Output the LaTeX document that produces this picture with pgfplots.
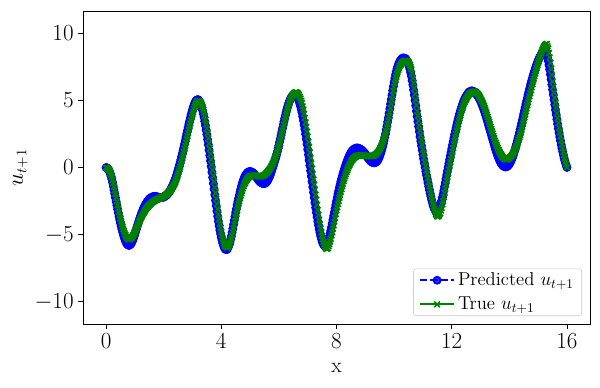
\documentclass[border=0pt]{standalone}
\usepackage{pgfplots}
\pgfplotsset{compat=1.18}
\usepackage{pgfplotstable}
\pgfplotstableread{
x T P
0.000 0.00 0.00
0.025 -0.02 -0.02
0.050 -0.05 -0.05
0.075 -0.10 -0.12
0.100 -0.15 -0.20
0.125 -0.26 -0.34
0.150 -0.38 -0.48
0.175 -0.54 -0.66
0.200 -0.70 -0.85
0.225 -0.94 -1.11
0.250 -1.18 -1.38
0.275 -1.44 -1.66
0.300 -1.70 -1.95
0.325 -1.97 -2.24
0.350 -2.25 -2.53
0.375 -2.52 -2.81
0.400 -2.80 -3.10
0.425 -3.06 -3.37
0.450 -3.32 -3.65
0.475 -3.56 -3.90
0.500 -3.80 -4.15
0.525 -4.01 -4.37
0.550 -4.22 -4.60
0.575 -4.41 -4.80
0.600 -4.60 -5.00
0.625 -4.75 -5.17
0.650 -4.90 -5.33
0.675 -5.03 -5.47
0.700 -5.15 -5.60
0.725 -5.23 -5.68
0.750 -5.30 -5.75
0.775 -5.33 -5.78
0.800 -5.35 -5.80
0.825 -5.33 -5.76
0.850 -5.30 -5.72
0.875 -5.25 -5.64
0.900 -5.20 -5.55
0.925 -5.11 -5.42
0.950 -5.02 -5.28
0.975 -4.91 -5.12
1.000 -4.80 -4.95
1.025 -4.68 -4.78
1.050 -4.55 -4.60
1.075 -4.43 -4.43
1.100 -4.30 -4.25
1.125 -4.18 -4.09
1.150 -4.05 -3.92
1.175 -3.93 -3.76
1.200 -3.80 -3.60
1.225 -3.70 -3.46
1.250 -3.60 -3.32
1.275 -3.50 -3.19
1.300 -3.40 -3.05
1.325 -3.31 -2.94
1.350 -3.22 -2.83
1.375 -3.14 -2.74
1.400 -3.05 -2.65
1.425 -2.99 -2.57
1.450 -2.92 -2.48
1.475 -2.86 -2.42
1.500 -2.80 -2.35
1.525 -2.75 -2.31
1.550 -2.70 -2.26
1.575 -2.65 -2.23
1.600 -2.60 -2.20
1.625 -2.56 -2.18
1.650 -2.52 -2.16
1.675 -2.49 -2.15
1.700 -2.45 -2.15
1.725 -2.43 -2.16
1.750 -2.40 -2.17
1.775 -2.38 -2.19
1.800 -2.35 -2.20
1.825 -2.33 -2.22
1.850 -2.30 -2.23
1.875 -2.28 -2.24
1.900 -2.25 -2.25
1.925 -2.23 -2.24
1.950 -2.20 -2.23
1.975 -2.18 -2.22
2.000 -2.15 -2.20
2.025 -2.12 -2.17
2.050 -2.08 -2.13
2.075 -2.04 -2.09
2.100 -2.00 -2.05
2.125 -1.96 -2.00
2.150 -1.91 -1.94
2.175 -1.86 -1.87
2.200 -1.80 -1.80
2.225 -1.73 -1.71
2.250 -1.66 -1.61
2.275 -1.58 -1.51
2.300 -1.50 -1.40
2.325 -1.41 -1.28
2.350 -1.31 -1.16
2.375 -1.21 -1.03
2.400 -1.10 -0.90
2.425 -0.96 -0.73
2.450 -0.82 -0.56
2.475 -0.66 -0.38
2.500 -0.50 -0.20
2.525 -0.32 0.00
2.550 -0.13 0.20
2.575 0.06 0.40
2.600 0.25 0.60
2.625 0.48 0.83
2.650 0.70 1.05
2.675 0.93 1.28
2.700 1.15 1.50
2.725 1.39 1.75
2.750 1.62 2.00
2.775 1.86 2.25
2.800 2.10 2.50
2.825 2.34 2.74
2.850 2.58 2.98
2.875 2.82 3.22
2.900 3.05 3.45
2.925 3.29 3.68
2.950 3.52 3.90
2.975 3.74 4.10
3.000 3.95 4.30
3.025 4.14 4.47
3.050 4.33 4.63
3.075 4.49 4.77
3.100 4.65 4.90
3.125 4.76 4.97
3.150 4.87 5.03
3.175 4.91 5.04
3.200 4.95 5.05
3.225 4.94 4.98
3.250 4.93 4.90
3.275 4.87 4.78
3.300 4.80 4.65
3.325 4.65 4.45
3.350 4.50 4.25
3.375 4.30 4.00
3.400 4.10 3.75
3.425 3.83 3.44
3.450 3.55 3.13
3.475 3.23 2.79
3.500 2.90 2.45
3.525 2.54 2.08
3.550 2.17 1.70
3.575 1.79 1.30
3.600 1.40 0.90
3.625 1.00 0.49
3.650 0.60 0.08
3.675 0.20 -0.34
3.700 -0.20 -0.75
3.725 -0.63 -1.18
3.750 -1.05 -1.60
3.775 -1.48 -2.03
3.800 -1.90 -2.45
3.825 -2.31 -2.85
3.850 -2.72 -3.25
3.875 -3.11 -3.63
3.900 -3.50 -4.00
3.925 -3.85 -4.33
3.950 -4.20 -4.65
3.975 -4.50 -4.93
4.000 -4.80 -5.20
4.025 -5.04 -5.42
4.050 -5.28 -5.63
4.075 -5.47 -5.79
4.100 -5.65 -5.95
4.125 -5.77 -6.03
4.150 -5.88 -6.10
4.175 -5.92 -6.11
4.200 -5.95 -6.10
4.225 -5.91 -6.00
4.250 -5.87 -5.90
4.275 -5.76 -5.75
4.300 -5.65 -5.60
4.325 -5.47 -5.36
4.350 -5.28 -5.12
4.375 -5.04 -4.84
4.400 -4.80 -4.55
4.425 -4.53 -4.25
4.450 -4.25 -3.95
4.475 -3.98 -3.65
4.500 -3.70 -3.35
4.525 -3.44 -3.08
4.550 -3.18 -2.80
4.575 -2.94 -2.55
4.600 -2.70 -2.30
4.625 -2.49 -2.07
4.650 -2.28 -1.83
4.675 -2.09 -1.62
4.700 -1.90 -1.40
4.725 -1.73 -1.23
4.750 -1.55 -1.05
4.775 -1.40 -0.90
4.800 -1.25 -0.75
4.825 -1.14 -0.65
4.850 -1.03 -0.55
4.875 -0.94 -0.48
4.900 -0.85 -0.40
4.925 -0.79 -0.36
4.950 -0.73 -0.32
4.975 -0.69 -0.31
5.000 -0.65 -0.30
5.025 -0.64 -0.31
5.050 -0.62 -0.33
5.075 -0.61 -0.36
5.100 -0.60 -0.40
5.125 -0.60 -0.45
5.150 -0.60 -0.51
5.175 -0.60 -0.58
5.200 -0.60 -0.65
5.225 -0.62 -0.73
5.250 -0.63 -0.80
5.275 -0.64 -0.88
5.300 -0.65 -0.95
5.325 -0.66 -1.01
5.350 -0.66 -1.07
5.375 -0.66 -1.11
5.400 -0.65 -1.15
5.425 -0.63 -1.17
5.450 -0.61 -1.19
5.475 -0.58 -1.20
5.500 -0.55 -1.20
5.525 -0.51 -1.17
5.550 -0.46 -1.13
5.575 -0.41 -1.07
5.600 -0.35 -1.00
5.625 -0.28 -0.90
5.650 -0.21 -0.80
5.675 -0.13 -0.68
5.700 -0.05 -0.55
5.725 0.05 -0.40
5.750 0.14 -0.24
5.775 0.25 -0.07
5.800 0.35 0.10
5.825 0.48 0.28
5.850 0.60 0.45
5.875 0.75 0.63
5.900 0.90 0.80
5.925 1.07 1.00
5.950 1.23 1.20
5.975 1.42 1.43
6.000 1.60 1.65
6.025 1.82 1.90
6.050 2.03 2.14
6.075 2.27 2.40
6.100 2.50 2.65
6.125 2.74 2.91
6.150 2.97 3.16
6.175 3.21 3.41
6.200 3.45 3.65
6.225 3.69 3.88
6.250 3.92 4.10
6.275 4.14 4.30
6.300 4.35 4.50
6.325 4.54 4.67
6.350 4.73 4.83
6.375 4.89 4.97
6.400 5.05 5.10
6.425 5.17 5.19
6.450 5.28 5.28
6.475 5.37 5.34
6.500 5.45 5.40
6.525 5.51 5.41
6.550 5.56 5.41
6.575 5.58 5.38
6.600 5.60 5.35
6.625 5.57 5.27
6.650 5.54 5.18
6.675 5.47 5.07
6.700 5.40 4.95
6.725 5.27 4.76
6.750 5.14 4.56
6.775 4.97 4.33
6.800 4.80 4.10
6.825 4.55 3.80
6.850 4.30 3.50
6.875 4.00 3.18
6.900 3.70 2.85
6.925 3.36 2.49
6.950 3.02 2.12
6.975 2.66 1.74
7.000 2.30 1.35
7.025 1.91 0.95
7.050 1.51 0.55
7.075 1.11 0.15
7.100 0.70 -0.25
7.125 0.30 -0.65
7.150 -0.10 -1.05
7.175 -0.50 -1.45
7.200 -0.90 -1.85
7.225 -1.28 -2.24
7.250 -1.66 -2.62
7.275 -2.03 -2.99
7.300 -2.40 -3.35
7.325 -2.78 -3.68
7.350 -3.16 -4.00
7.375 -3.53 -4.30
7.400 -3.90 -4.60
7.425 -4.22 -4.85
7.450 -4.53 -5.10
7.475 -4.82 -5.30
7.500 -5.10 -5.50
7.525 -5.33 -5.63
7.550 -5.55 -5.75
7.575 -5.73 -5.80
7.600 -5.90 -5.85
7.625 -5.98 -5.80
7.650 -6.05 -5.75
7.675 -6.03 -5.65
7.700 -6.00 -5.55
7.725 -5.85 -5.35
7.750 -5.70 -5.15
7.775 -5.50 -4.93
7.800 -5.30 -4.70
7.825 -5.06 -4.44
7.850 -4.82 -4.17
7.875 -4.56 -3.89
7.900 -4.30 -3.60
7.925 -4.03 -3.33
7.950 -3.75 -3.05
7.975 -3.48 -2.78
8.000 -3.20 -2.50
8.025 -2.96 -2.24
8.050 -2.72 -1.98
8.075 -2.49 -1.74
8.100 -2.25 -1.50
8.125 -2.04 -1.28
8.150 -1.82 -1.05
8.175 -1.61 -0.85
8.200 -1.40 -0.65
8.225 -1.21 -0.47
8.250 -1.01 -0.28
8.275 -0.83 -0.12
8.300 -0.65 0.05
8.325 -0.49 0.21
8.350 -0.33 0.37
8.375 -0.19 0.51
8.400 -0.05 0.65
8.425 0.07 0.78
8.450 0.19 0.90
8.475 0.30 1.00
8.500 0.40 1.10
8.525 0.49 1.18
8.550 0.57 1.25
8.575 0.64 1.30
8.600 0.70 1.35
8.625 0.75 1.39
8.650 0.79 1.42
8.675 0.82 1.44
8.700 0.85 1.45
8.725 0.87 1.45
8.750 0.88 1.44
8.775 0.89 1.42
8.800 0.90 1.40
8.825 0.90 1.37
8.850 0.90 1.34
8.875 0.90 1.30
8.900 0.90 1.25
8.925 0.89 1.19
8.950 0.88 1.13
8.975 0.87 1.07
9.000 0.85 1.00
9.025 0.85 0.93
9.050 0.85 0.85
9.075 0.85 0.78
9.100 0.85 0.70
9.125 0.85 0.63
9.150 0.85 0.57
9.175 0.85 0.51
9.200 0.85 0.45
9.225 0.86 0.41
9.250 0.87 0.38
9.275 0.88 0.36
9.300 0.90 0.35
9.325 0.93 0.36
9.350 0.96 0.37
9.375 1.00 0.41
9.400 1.05 0.45
9.425 1.11 0.53
9.450 1.18 0.61
9.475 1.26 0.73
9.500 1.35 0.85
9.525 1.46 1.01
9.550 1.58 1.17
9.575 1.71 1.36
9.600 1.85 1.55
9.625 2.00 1.77
9.650 2.15 2.00
9.675 2.32 2.25
9.700 2.50 2.50
9.725 2.73 2.79
9.750 2.97 3.08
9.775 3.23 3.39
9.800 3.50 3.70
9.825 3.80 4.03
9.850 4.10 4.37
9.875 4.42 4.71
9.900 4.75 5.05
9.925 5.08 5.39
9.950 5.40 5.73
9.975 5.70 6.04
10.000 6.00 6.35
10.025 6.26 6.63
10.050 6.52 6.90
10.075 6.74 7.13
10.100 6.95 7.35
10.125 7.12 7.51
10.150 7.28 7.67
10.175 7.42 7.79
10.200 7.55 7.90
10.225 7.64 7.98
10.250 7.72 8.05
10.275 7.79 8.10
10.300 7.85 8.15
10.325 7.89 8.15
10.350 7.92 8.15
10.375 7.94 8.13
10.400 7.95 8.10
10.425 7.94 8.02
10.450 7.93 7.93
10.475 7.89 7.82
10.500 7.85 7.70
10.525 7.74 7.50
10.550 7.63 7.30
10.575 7.47 7.05
10.600 7.30 6.80
10.625 6.98 6.48
10.650 6.65 6.15
10.675 6.28 5.78
10.700 5.90 5.40
10.725 5.48 5.00
10.750 5.05 4.60
10.775 4.63 4.20
10.800 4.20 3.80
10.825 3.84 3.43
10.850 3.47 3.05
10.875 3.11 2.68
10.900 2.75 2.30
10.925 2.40 1.96
10.950 2.05 1.62
10.975 1.70 1.29
11.000 1.35 0.95
11.025 1.04 0.64
11.050 0.72 0.32
11.075 0.41 0.01
11.100 0.10 -0.30
11.125 -0.20 -0.58
11.150 -0.50 -0.85
11.175 -0.80 -1.13
11.200 -1.10 -1.40
11.225 -1.38 -1.66
11.250 -1.66 -1.92
11.275 -1.93 -2.16
11.300 -2.20 -2.40
11.325 -2.44 -2.60
11.350 -2.68 -2.80
11.375 -2.89 -2.95
11.400 -3.10 -3.10
11.425 -3.28 -3.18
11.450 -3.45 -3.26
11.475 -3.55 -3.28
11.500 -3.65 -3.30
11.525 -3.63 -3.23
11.550 -3.60 -3.15
11.575 -3.50 -3.03
11.600 -3.40 -2.90
11.625 -3.20 -2.69
11.650 -3.00 -2.48
11.675 -2.75 -2.24
11.700 -2.50 -2.00
11.725 -2.20 -1.72
11.750 -1.90 -1.43
11.775 -1.58 -1.14
11.800 -1.25 -0.85
11.825 -0.98 -0.56
11.850 -0.70 -0.27
11.875 -0.43 0.02
11.900 -0.15 0.30
11.925 0.12 0.58
11.950 0.38 0.86
11.975 0.64 1.13
12.000 0.90 1.40
12.025 1.18 1.67
12.050 1.45 1.93
12.075 1.73 2.19
12.100 2.00 2.45
12.125 2.25 2.69
12.150 2.50 2.93
12.175 2.75 3.17
12.200 3.00 3.40
12.225 3.23 3.61
12.250 3.46 3.82
12.275 3.68 4.01
12.300 3.90 4.20
12.325 4.09 4.37
12.350 4.27 4.54
12.375 4.44 4.70
12.400 4.60 4.85
12.425 4.74 4.98
12.450 4.87 5.10
12.475 4.99 5.20
12.500 5.10 5.30
12.525 5.20 5.39
12.550 5.29 5.47
12.575 5.37 5.54
12.600 5.45 5.60
12.625 5.50 5.64
12.650 5.54 5.67
12.675 5.57 5.69
12.700 5.60 5.70
12.725 5.62 5.69
12.750 5.64 5.67
12.775 5.65 5.64
12.800 5.65 5.60
12.825 5.63 5.55
12.850 5.60 5.49
12.875 5.55 5.42
12.900 5.50 5.35
12.925 5.43 5.26
12.950 5.35 5.16
12.975 5.25 5.06
13.000 5.15 4.95
13.025 5.05 4.82
13.050 4.94 4.69
13.075 4.82 4.55
13.100 4.70 4.40
13.125 4.56 4.25
13.150 4.42 4.09
13.175 4.26 3.92
13.200 4.10 3.75
13.225 3.93 3.57
13.250 3.76 3.38
13.275 3.58 3.19
13.300 3.40 3.00
13.325 3.23 2.82
13.350 3.05 2.63
13.375 2.88 2.44
13.400 2.70 2.25
13.425 2.53 2.06
13.450 2.35 1.87
13.475 2.18 1.69
13.500 2.00 1.50
13.525 1.86 1.33
13.550 1.71 1.16
13.575 1.58 1.01
13.600 1.45 0.85
13.625 1.33 0.72
13.650 1.21 0.58
13.675 1.11 0.47
13.700 1.00 0.35
13.725 0.92 0.28
13.750 0.83 0.20
13.775 0.77 0.15
13.800 0.70 0.10
13.825 0.67 0.08
13.850 0.63 0.05
13.875 0.62 0.05
13.900 0.60 0.05
13.925 0.62 0.08
13.950 0.63 0.12
13.975 0.67 0.19
14.000 0.70 0.25
14.025 0.76 0.35
14.050 0.81 0.45
14.075 0.88 0.58
14.100 0.95 0.70
14.125 1.04 0.85
14.150 1.13 1.00
14.175 1.24 1.18
14.200 1.35 1.35
14.225 1.48 1.55
14.250 1.61 1.74
14.275 1.76 1.95
14.300 1.90 2.15
14.325 2.07 2.37
14.350 2.23 2.59
14.375 2.42 2.82
14.400 2.60 3.05
14.425 2.82 3.29
14.450 3.04 3.52
14.475 3.27 3.76
14.500 3.50 4.00
14.525 3.73 4.24
14.550 3.95 4.48
14.575 4.18 4.72
14.600 4.40 4.95
14.625 4.63 5.18
14.650 4.85 5.41
14.675 5.08 5.63
14.700 5.30 5.85
14.725 5.53 6.06
14.750 5.75 6.27
14.775 5.98 6.46
14.800 6.20 6.65
14.825 6.41 6.83
14.850 6.61 7.01
14.875 6.81 7.18
14.900 7.00 7.35
14.925 7.20 7.51
14.950 7.40 7.67
14.975 7.60 7.81
15.000 7.80 7.95
15.025 7.98 8.08
15.050 8.16 8.20
15.075 8.33 8.30
15.100 8.50 8.40
15.125 8.64 8.48
15.150 8.78 8.55
15.175 8.89 8.60
15.200 9.00 8.65
15.225 9.08 8.63
15.250 9.15 8.60
15.275 9.18 8.50
15.300 9.20 8.40
15.325 9.03 8.18
15.350 8.85 7.95
15.375 8.53 7.63
15.400 8.20 7.30
15.425 7.78 6.93
15.450 7.35 6.55
15.475 6.88 6.18
15.500 6.40 5.80
15.525 5.99 5.43
15.550 5.58 5.05
15.575 5.19 4.68
15.600 4.80 4.30
15.625 4.43 3.95
15.650 4.05 3.59
15.675 3.68 3.25
15.700 3.30 2.90
15.725 2.97 2.59
15.750 2.63 2.28
15.775 2.32 1.99
15.800 2.00 1.70
15.825 1.72 1.44
15.850 1.43 1.18
15.875 1.17 0.94
15.900 0.90 0.70
15.925 0.67 0.51
15.950 0.43 0.32
15.975 0.22 0.16
16.000 0.00 0.00
}\datatable
\begin{document}
\begin{tikzpicture}
\useasboundingbox (-62.25pt,-47.25pt) rectangle (387.75pt,243pt);
\begin{axis}[
  at={(0,0)}, anchor=south west,
  scale only axis, width=380.25pt, height=234.75pt,
  xmin=-0.8, xmax=16.8, ymin=-11.65, ymax=11.65,
  xtick={0,4,8,12,16}, ytick={-10,-5,0,5,10},
  tick align=outside, tick pos=left,
  major tick length=3.5pt,
  axis line style={line width=0.6pt},
  every tick/.style={black, line width=0.6pt},
  ticklabel style={font=\fontsize{16}{19}\selectfont},
  label style={font=\fontsize{16}{19}\selectfont},
  xlabel={x}, ylabel={$u_{t+1}$},
  xlabel style={at={(axis description cs:0.5,0)}, anchor=center, yshift=-33pt},
  ylabel style={at={(axis description cs:-0.1236,0.5)}, anchor=center},
  legend style={at={(1,0)}, anchor=south east, xshift=-6pt, yshift=6pt,
    font=\fontsize{14}{17}\selectfont, draw=black!20, rounded corners=2pt,
    fill=white, fill opacity=0.8, text opacity=1, row sep=3pt,
    inner xsep=4pt, inner ysep=1pt},
  legend cell align=left,
  legend image code/.code={\draw[mark repeat=2,mark phase=2] plot coordinates {(0pt,0pt) (13pt,0pt) (26pt,0pt)};},
]
\addplot[blue, line width=1.4pt, dash pattern=on 5.5pt off 2.4pt, mark=*, mark size=2.6pt, mark options={solid}] table[x=x,y=P] {\datatable};
\addlegendentry{Predicted $u_{t+1}$}
\addplot[green!50!black, line width=1.4pt, mark=x, mark size=3pt, mark options={solid, line width=1.2pt}] table[x=x,y=T] {\datatable};
\addlegendentry{True $u_{t+1}$}
\end{axis}
\end{tikzpicture}
\end{document}
